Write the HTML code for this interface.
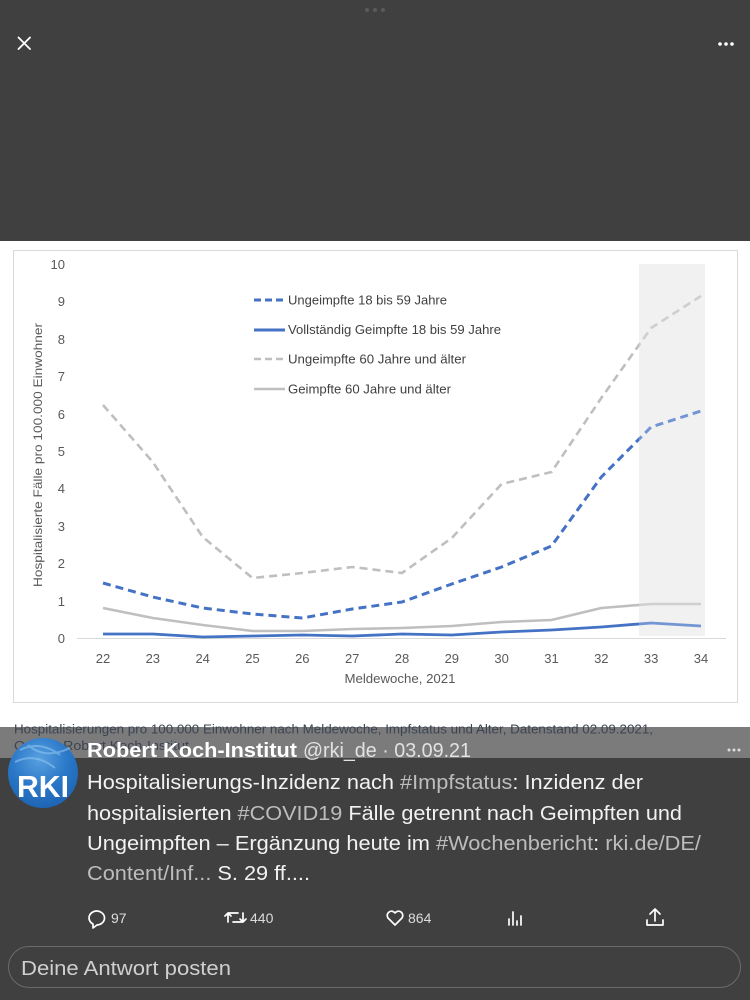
<!DOCTYPE html>
<html><head><meta charset="utf-8"><style>
html,body{margin:0;padding:0;background:#404040;}
svg{display:block;}
text{font-family:"Liberation Sans",sans-serif;}
</style></head><body>
<svg width="750" height="1000" viewBox="0 0 750 1000" xmlns="http://www.w3.org/2000/svg">
<rect x="0" y="0" width="750" height="1000" fill="#404040"/>
<!-- top bar -->
<circle cx="367" cy="10" r="2" fill="#5a5a5a"/><circle cx="375" cy="10" r="2" fill="#5a5a5a"/><circle cx="383" cy="10" r="2" fill="#5a5a5a"/>
<path d="M18.5 37.5 L30 49 M30 37.5 L18.5 49" stroke="#fff" stroke-width="1.8" stroke-linecap="round"/>
<circle cx="720" cy="44" r="1.8" fill="#fff"/><circle cx="726" cy="44" r="1.8" fill="#fff"/><circle cx="732" cy="44" r="1.8" fill="#fff"/>

<!-- white image -->
<rect x="0" y="241" width="750" height="486" fill="#ffffff"/>
<rect x="13.5" y="250.5" width="724" height="452" fill="#fff" stroke="#d9d9d9" stroke-width="1"/>
<rect x="639" y="264" width="66" height="372" fill="#ececec"/>
<line x1="77" y1="638.5" x2="726" y2="638.5" stroke="#d9d9d9" stroke-width="1"/>

<!-- y ticks -->
<g font-size="13" fill="#595959" text-anchor="end">
<text x="65" y="269">10</text>
<text x="65" y="306">9</text>
<text x="65" y="344">8</text>
<text x="65" y="381">7</text>
<text x="65" y="419">6</text>
<text x="65" y="456">5</text>
<text x="65" y="493">4</text>
<text x="65" y="531">3</text>
<text x="65" y="568">2</text>
<text x="65" y="606">1</text>
<text x="65" y="643">0</text>
</g>
<text transform="translate(42,455) rotate(-90)" font-size="12" fill="#595959" text-anchor="middle" textLength="264" lengthAdjust="spacingAndGlyphs">Hospitalisierte Fälle pro 100.000 Einwohner</text>

<!-- x ticks -->
<g font-size="13" fill="#595959" text-anchor="middle">
<text x="103" y="663">22</text>
<text x="152.8" y="663">23</text>
<text x="202.7" y="663">24</text>
<text x="252.5" y="663">25</text>
<text x="302.3" y="663">26</text>
<text x="352.2" y="663">27</text>
<text x="402" y="663">28</text>
<text x="451.8" y="663">29</text>
<text x="501.6" y="663">30</text>
<text x="551.5" y="663">31</text>
<text x="601.3" y="663">32</text>
<text x="651.1" y="663">33</text>
<text x="701" y="663">34</text>
</g>
<text x="400" y="683" font-size="13" fill="#595959" text-anchor="middle" textLength="111" lengthAdjust="spacingAndGlyphs">Meldewoche, 2021</text>

<!-- series -->
<g fill="none" stroke-linejoin="round">
<polyline stroke="#bfbfbf" stroke-width="2.6" stroke-dasharray="8,5" points="103,405 152.8,462 202.7,537 252.5,578 302.3,573 352.2,567 402,573 451.8,538 501.6,484 551.5,472 601.3,398 651.1,328 701,296"/>
<polyline stroke="#4472c4" stroke-width="3" stroke-dasharray="8,5" points="103,583 152.8,597 202.7,608 252.5,614 302.3,618 352.2,609 402,602 451.8,584 501.6,567 551.5,546 601.3,477 651.1,427 701,411"/>
<polyline stroke="#bfbfbf" stroke-width="2.6" points="103,608 152.8,618 202.7,625 252.5,631 302.3,631 352.2,629 402,628 451.8,626 501.6,622 551.5,620 601.3,608 651.1,604 701,604"/>
<polyline stroke="#4472c4" stroke-width="2.8" points="103,634 152.8,634 202.7,637 252.5,636 302.3,635 352.2,636 402,634 451.8,635 501.6,632 551.5,630 601.3,627 651.1,623 701,626"/>
</g>
<rect x="639" y="264" width="66" height="372" fill="#ffffff" opacity="0.25"/>

<!-- legend -->
<line x1="254" y1="300" x2="285" y2="300" stroke="#4472c4" stroke-width="3" stroke-dasharray="7,4"/>
<line x1="254" y1="330" x2="285" y2="330" stroke="#4472c4" stroke-width="3"/>
<line x1="254" y1="359" x2="285" y2="359" stroke="#bfbfbf" stroke-width="2.6" stroke-dasharray="7,4"/>
<line x1="254" y1="389" x2="285" y2="389" stroke="#bfbfbf" stroke-width="2.6"/>
<g font-size="12.5" fill="#404040">
<text x="288" y="304.5" textLength="159" lengthAdjust="spacingAndGlyphs">Ungeimpfte 18 bis 59 Jahre</text>
<text x="288" y="334" textLength="213" lengthAdjust="spacingAndGlyphs">Vollständig Geimpfte 18 bis 59 Jahre</text>
<text x="288" y="363.5" textLength="178" lengthAdjust="spacingAndGlyphs">Ungeimpfte 60 Jahre und älter</text>
<text x="288" y="393.5" textLength="163" lengthAdjust="spacingAndGlyphs">Geimpfte 60 Jahre und älter</text>
</g>

<!-- overlay band -->
<rect x="0" y="727" width="750" height="31" fill="#7b7b7b"/>
<text x="14" y="733.5" font-size="13" fill="#3c4452" textLength="639" lengthAdjust="spacingAndGlyphs">Hospitalisierungen pro 100.000 Einwohner nach Meldewoche, Impfstatus und Alter, Datenstand 02.09.2021,</text>
<text x="14" y="750" font-size="13" fill="#3c4452" textLength="175" lengthAdjust="spacingAndGlyphs">Quelle: Robert Koch-Institut</text>

<!-- avatar -->
<defs>
<radialGradient id="av" cx="0.45" cy="0.3" r="0.8">
<stop offset="0" stop-color="#5aa0e0"/>
<stop offset="0.5" stop-color="#2a78c8"/>
<stop offset="1" stop-color="#1a5fae"/>
</radialGradient>
</defs>
<circle cx="43" cy="773" r="35" fill="url(#av)"/>
<path d="M20 750 Q40 740 60 755 M28 745 Q45 760 70 748 M15 762 Q35 752 55 768" stroke="#8cc4f0" stroke-width="2" fill="none" opacity="0.6"/>
<text x="43" y="797" font-size="31" font-weight="bold" fill="#ffffff" text-anchor="middle" textLength="52" lengthAdjust="spacingAndGlyphs">RKI</text>

<!-- name -->
<text x="87" y="757" font-size="20" font-weight="bold" fill="#ffffff" textLength="210" lengthAdjust="spacingAndGlyphs">Robert Koch-Institut</text>
<text x="303" y="757" font-size="20" fill="#e2e2e2" textLength="168" lengthAdjust="spacingAndGlyphs">@rki_de · 03.09.21</text>
<circle cx="729" cy="750" r="1.5" fill="#dcdcdc"/><circle cx="734" cy="750" r="1.5" fill="#dcdcdc"/><circle cx="739" cy="750" r="1.5" fill="#dcdcdc"/>

<!-- tweet text -->
<g font-size="20" fill="#f2f2f2">
<text x="87" y="789" textLength="556" lengthAdjust="spacingAndGlyphs">Hospitalisierungs-Inzidenz nach <tspan fill="#bdbdbd">#Impfstatus</tspan>: Inzidenz der</text>
<text x="87" y="820" textLength="595" lengthAdjust="spacingAndGlyphs">hospitalisierten <tspan fill="#bdbdbd">#COVID19</tspan> Fälle getrennt nach Geimpften und</text>
<text x="87" y="850" textLength="614" lengthAdjust="spacingAndGlyphs">Ungeimpften – Ergänzung heute im <tspan fill="#bdbdbd">#Wochenbericht</tspan>: <tspan fill="#bdbdbd">rki.de/DE/</tspan></text>
<text x="87" y="880" textLength="223" lengthAdjust="spacingAndGlyphs"><tspan fill="#bdbdbd">Content/Inf...</tspan> S. 29 ff....</text>
</g>

<!-- actions -->
<g stroke="#ffffff" stroke-width="1.7" fill="none" stroke-linecap="round" stroke-linejoin="round">
<path d="M96 911 a8 7 0 1 1 1 14 l-4 3 l0 -4 a8 7 0 0 1 3 -13 z"/>
<path d="M228 922 v-9 h10 M225 916 l3 -3 l3 3 M243 913 v9 h-10 M240 919 l3 3 l3 -3"/>
<path d="M395 925 l-7 -7 a4 4 0 0 1 7 -5 a4 4 0 0 1 7 5 z"/>
<path d="M509 925 v-6 M513 925 v-13 M517 925 v-4 M521 925 v-9"/>
<path d="M655 921 v-12 M650 914 l5 -5 l5 5 M647 920 v5 h16 v-5"/>
</g>
<g font-size="14" fill="#dcdcdc">
<text x="111" y="923">97</text>
<text x="250" y="923">440</text>
<text x="390" y="923" dx="18">864</text>
</g>

<!-- reply box -->
<rect x="8.5" y="946.5" width="732" height="41" rx="20.5" fill="none" stroke="#6b6b6b" stroke-width="1"/>
<text x="21" y="975" font-size="20" fill="#cfcfcf" textLength="210" lengthAdjust="spacingAndGlyphs">Deine Antwort posten</text>
</svg>
</body></html>
